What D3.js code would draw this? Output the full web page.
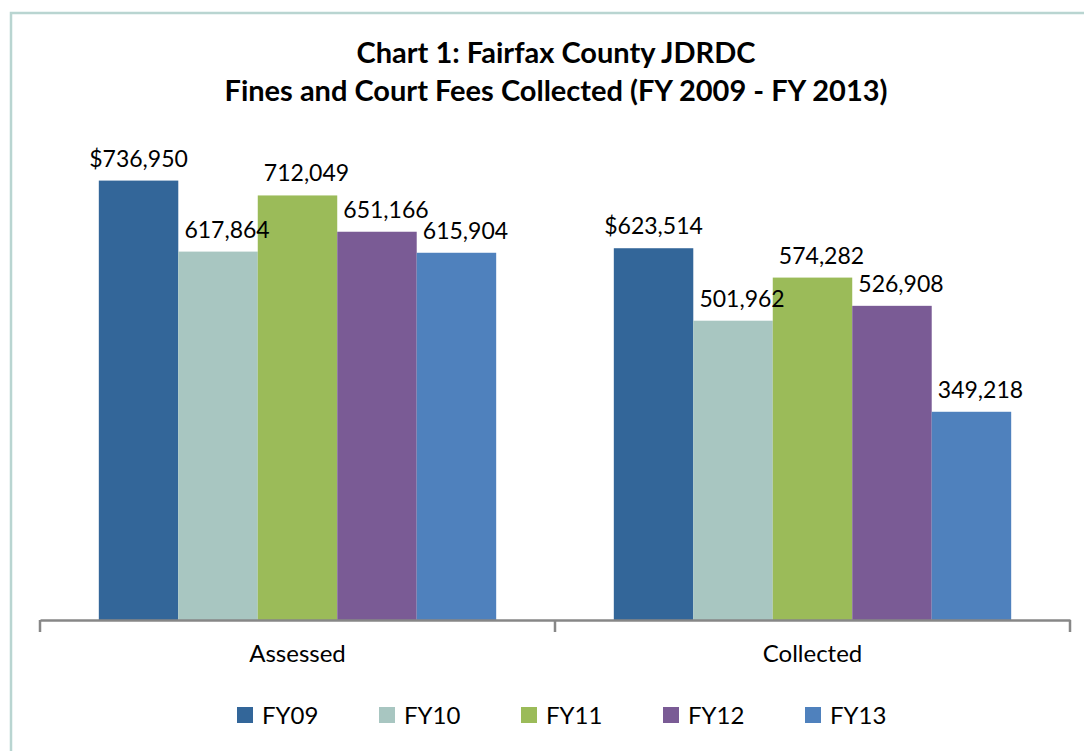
<!DOCTYPE html>
<html>
<head>
<meta charset="utf-8">
<script src="https://cdn.jsdelivr.net/npm/d3@7"></script>
<style>
  body { margin: 0; background: #fff; }
  text { font-family: Lato, "Open Sans", sans-serif; fill: #000; }
</style>
</head>
<body>
<div id="chart"></div>
<script>
// data
const categories = ["Assessed", "Collected"];
const seriesNames = ["FY09", "FY10", "FY11", "FY12", "FY13"];
const seriesColors = ["#336699", "#a8c6c1", "#9bbb59", "#7a5b95", "#4f81bd"];
const assessed = [736950, 617864, 712049, 651166, 615904];
const collected = [623514, 501962, 574282, 526908, 349218];
const titleLines = ["Chart 1: Fairfax County JDRDC", "Fines and Court Fees Collected (FY 2009 - FY 2013)"];

const width = 1084, height = 751;
const valuesByCat = { "Assessed": assessed, "Collected": collected };

const svg = d3.select("#chart").append("svg")
    .attr("width", width)
    .attr("height", height);

svg.append("rect").attr("width", width).attr("height", height).attr("fill", "#fff");

// outer frame (only left and top edges are visible in the crop)
svg.append("path")
    .attr("d", "M11," + height + "V13H" + width)
    .attr("fill", "none")
    .attr("stroke", "#b9d5d1")
    .attr("stroke-width", 2.5);

// title
svg.append("text")
    .attr("x", 556)
    .attr("y", 63)
    .attr("text-anchor", "middle")
    .style("font-weight", "bold")
    .style("font-size", "29px")
    .selectAll("tspan")
    .data(titleLines)
    .join("tspan")
    .attr("x", 556)
    .attr("dy", (d, i) => i === 0 ? 0 : 38)
    .text(d => d);

const x0 = d3.scaleBand()
    .domain(categories)
    .range([40, 1070])
    .padding(0);

const x1 = d3.scaleBand()
    .domain(seriesNames)
    .range([0, x0.bandwidth()])
    .paddingInner(0)
    .paddingOuter(0.74);

const y = d3.scaleLinear()
    .domain([0, 800000])
    .range([620, 143]);

const dollar = d3.format("$,");
const plain = d3.format(",");

const groups = svg.selectAll("g.cat")
    .data(categories)
    .join("g")
    .attr("class", "cat")
    .attr("transform", d => "translate(" + x0(d) + ",0)");

const cells = c => valuesByCat[c].map((v, i) => ({ cat: c, name: seriesNames[i], value: v, i: i }));

groups.selectAll("rect")
    .data(cells)
    .join("rect")
    .attr("x", d => x1(d.name))
    .attr("y", d => y(d.value))
    .attr("width", x1.bandwidth())
    .attr("height", d => y(0) - y(d.value))
    .attr("fill", d => seriesColors[d.i]);

groups.selectAll("text.lbl")
    .data(cells)
    .join("text")
    .attr("class", "lbl")
    .attr("x", d => x1(d.name) + x1.bandwidth() / 2 + (d.i === 0 ? 0 : 9))
    .attr("y", d => y(d.value) - 14)
    .attr("text-anchor", "middle")
    .style("font-size", "23px")
    .text(d => d.i === 0 ? dollar(d.value) : plain(d.value));

// category axis
const axis = svg.append("g")
    .attr("transform", "translate(0," + y(0) + ")")
    .call(d3.axisBottom(x0).tickSize(0).tickPadding(25));
axis.select(".domain").attr("stroke", "#878787").attr("stroke-width", 2.5);
axis.selectAll(".tick text")
    .style("font-size", "24px")
    .style("font-family", "Lato, 'Open Sans', sans-serif")
    .attr("fill", "#000");

// tick marks between categories
const bounds = categories.map(c => x0(c)).concat([x0.range()[1]]);
axis.selectAll("line.sep")
    .data(bounds)
    .join("line")
    .attr("class", "sep")
    .attr("x1", d => d).attr("x2", d => d)
    .attr("y1", 0).attr("y2", 12)
    .attr("stroke", "#878787")
    .attr("stroke-width", 2.5);

// legend
const legend = svg.append("g").attr("transform", "translate(237,707)");
const item = legend.selectAll("g")
    .data(seriesNames)
    .join("g")
    .attr("transform", (d, i) => "translate(" + (i * 142) + ",0)");
item.append("rect")
    .attr("width", 16).attr("height", 16)
    .attr("fill", (d, i) => seriesColors[i]);
item.append("text")
    .attr("x", 25)
    .attr("y", 17)
    .style("font-size", "24px")
    .text(d => d);
</script>
</body>
</html>
